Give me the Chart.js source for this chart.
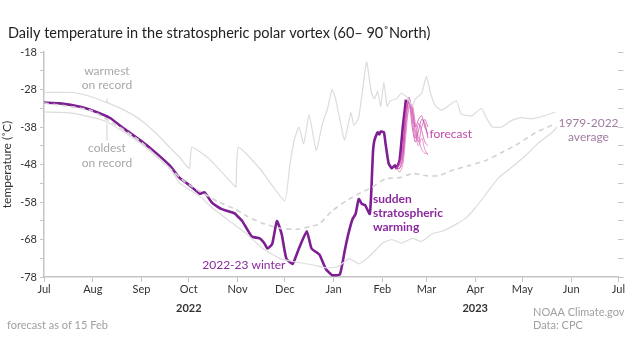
<!DOCTYPE html>
<html>
<head>
<meta charset="utf-8">
<script src="https://cdn.jsdelivr.net/npm/chart.js@4.4.0/dist/chart.umd.min.js"></script>
<style>
  body { margin: 0; background: #fff; }
  canvas { display: block; }
</style>
</head>
<body>
<canvas id="myChart" width="626" height="352"></canvas>
<script>
// days counted from 1 Jul 2022
var monthDays = [0, 31, 62, 92, 123, 153, 184, 215, 243, 274, 304, 335, 365];
var monthLabels = ['Jul', 'Aug', 'Sep', 'Oct', 'Nov', 'Dec', 'Jan', 'Feb', 'Mar', 'Apr', 'May', 'Jun', 'Jul'];
var yTicks = [-78, -73, -68, -63, -58, -53, -48, -43, -38, -33, -28, -23, -18];

// 2022-23 winter (observed)
var winterDays = [0, 10, 23, 32, 42, 51, 61, 70, 80, 86, 93, 99, 102, 107, 113, 121, 123, 126, 132, 137, 140, 142, 145, 148, 151, 154, 158, 162, 167, 170, 175, 179, 183, 188, 191, 193, 196, 198, 200, 202, 204, 207, 208, 209, 210, 212, 213, 214, 216, 217, 219, 221, 223, 224, 226, 228, 230];
var winterTemp = [-31.5, -31.7, -32.6, -33.8, -35.6, -38.5, -41.5, -44.5, -48.3, -51.5, -53.7, -55.8, -55.4, -58.3, -59.9, -61, -61.8, -63.1, -67.2, -67.7, -69, -70.4, -69.2, -63.1, -66.5, -73.1, -74.5, -70.4, -65.8, -70.4, -72, -75.8, -77.5, -77.3, -71.2, -67.2, -62.6, -61.2, -57.2, -58.5, -58.8, -61.2, -55, -45, -41.5, -39.4, -40, -39.2, -39.4, -42.3, -47.7, -49, -48.2, -49, -46.8, -38, -30.7];

// warmest on record
var warmDays = [0, 18, 29, 40, 51, 61, 72, 80, 86, 91, 92.5, 94, 105, 121, 122, 123.5, 137, 153, 156, 159, 162, 165, 168.5, 173, 177, 180, 183, 185, 188, 191, 195, 197, 200, 205, 208, 210, 212, 214, 216, 218, 220, 224, 227, 231, 234, 236, 240, 243, 246, 249, 253, 262, 265, 272, 278, 281, 285, 291, 297, 303, 310, 318, 325];
var warmTemp = [-28.8, -28.8, -29.8, -31.5, -33.5, -36, -40, -43.5, -46, -48.6, -49, -43.4, -46.5, -53.7, -54, -43.4, -49, -57.7, -48.8, -41.5, -38, -42.5, -34.8, -44.2, -37, -33.4, -28, -30, -36, -41.5, -34.2, -37.5, -35.5, -20.7, -28.8, -30.5, -28.5, -32.5, -26.1, -32.5, -31, -30.5, -29, -30.2, -32.5, -30.5, -29, -24.5, -29.5, -32.5, -33.5, -31, -34.5, -35, -33, -35.5, -38, -38, -36.3, -35.5, -35.8, -35, -34];

// coldest on record
var coldDays = [0, 18, 40, 61, 80, 86, 99, 107, 118, 129, 139, 150, 160, 171, 180, 187, 194, 200, 205, 208, 215, 221, 227, 234, 240, 247, 253, 262, 268, 274, 281, 289, 297, 306, 314, 323, 326];
var coldTemp = [-34, -34.3, -36.6, -42.3, -49, -52.9, -56.5, -59.6, -63.1, -66.6, -70.4, -73.1, -74, -74.8, -75.6, -75.2, -73.1, -74.5, -73.1, -72, -69, -68, -69, -67.7, -68.5, -66.4, -65.8, -63.9, -62.3, -59.6, -55.8, -51.5, -48.8, -45.6, -42.3, -39.4, -38];

// 1979-2022 average
var avgDays = [0, 30, 60, 90, 110, 122, 129, 139, 150, 160, 170, 175, 183, 192, 200, 208, 217, 226, 234, 243, 251, 259, 270, 281, 291, 302, 312, 323];
var avgTemp = [-31.6, -33.6, -41.4, -52.8, -57.8, -60, -61.8, -63.7, -65, -65.3, -64.5, -63.9, -60.4, -57.7, -55.8, -54.2, -51.8, -51.5, -50.4, -51, -51, -49.6, -48.3, -46.9, -44.8, -42.3, -39.6, -37.5];

// forecast members issued 15 Feb
var fcDays = [224, 226, 228, 230, 232, 234, 236, 238, 240, 242, 244];
var fc1 = [-49, -48, -44, -34, -30, -36, -41, -37, -39, -42, -43];
var fc2 = [-49, -49, -46, -36, -31, -33, -38, -36, -35, -38, -40];
var fc3 = [-49, -50, -48, -40, -32, -35, -40, -43, -41, -44, -45.5];
var fc4 = [-49, -47, -43, -33, -31.5, -38, -42, -39, -36, -37, -41];
var fc5 = [-49, -49, -47, -38, -33, -32, -37, -41, -44, -45, -45];
var fc6 = [-49, -48, -45, -35, -30.5, -34, -39, -42, -38, -36, -38];
var fcColors = ['rgba(214,90,180,0.75)', 'rgba(196,60,160,0.7)', 'rgba(226,120,196,0.75)', 'rgba(190,50,150,0.7)', 'rgba(220,110,190,0.7)', 'rgba(205,75,170,0.7)'];

function pts(days, vals) {
  return days.map(function (d, i) { return { x: d, y: vals[i] }; });
}

var datasets = [];
datasets.push({ data: pts(warmDays, warmTemp), borderColor: '#dcdcdc', borderWidth: 1.2 });
datasets.push({ data: pts(coldDays, coldTemp), borderColor: '#dcdcdc', borderWidth: 1.2 });
datasets.push({ data: pts(avgDays, avgTemp), borderColor: '#d2d2d2', borderWidth: 1.6, borderDash: [5, 4] });
[fc1, fc2, fc3, fc4, fc5, fc6].forEach(function (m, i) {
  datasets.push({ data: pts(fcDays, m), borderColor: fcColors[i], borderWidth: 1, tension: 0.3 });
});
datasets.push({ data: pts(winterDays, winterTemp), borderColor: '#7d1e92', borderWidth: 2.6 });

var notes = [
  { t: 'warmest', d: 40, v: -23.1, c: '#a8a8a8', a: 'center' },
  { t: 'on record', d: 40, v: -26.9, c: '#a8a8a8', a: 'center' },
  { t: 'coldest', d: 40, v: -43.7, c: '#a8a8a8', a: 'center' },
  { t: 'on record', d: 40, v: -47.5, c: '#a8a8a8', a: 'center' },
  { t: '2022-23 winter', d: 127, v: -74.8, c: '#8a2a9e', a: 'center' },
  { t: 'sudden', d: 209, v: -57.2, c: '#8a2a9e', a: 'left', b: true },
  { t: 'stratospheric', d: 209, v: -61, c: '#8a2a9e', a: 'left', b: true },
  { t: 'warming', d: 209, v: -64.8, c: '#8a2a9e', a: 'left', b: true },
  { t: 'forecast', d: 245, v: -39.9, c: '#c04aa6', a: 'left' },
  { t: '1979-2022', d: 346, v: -36.9, c: '#a07ca0', a: 'center' },
  { t: 'average', d: 346, v: -40.7, c: '#a07ca0', a: 'center' }
];

var FONT = 'Lato, "Open Sans", sans-serif';

var textPlugin = {
  id: 'texts',
  afterDatasetsDraw: function (chart) {
    var c = chart.ctx, xs = chart.scales.x, ys = chart.scales.y;
    c.save();
    // connectors for record labels
    c.strokeStyle = '#d0d0d0';
    c.lineWidth = 1;
    c.beginPath();
    c.moveTo(xs.getPixelForValue(40), ys.getPixelForValue(-30.4));
    c.lineTo(xs.getPixelForValue(40), ys.getPixelForValue(-31.5));
    c.moveTo(xs.getPixelForValue(40), ys.getPixelForValue(-37));
    c.lineTo(xs.getPixelForValue(40), ys.getPixelForValue(-41.6));
    c.stroke();
    c.textBaseline = 'middle';
    notes.forEach(function (n) {
      c.font = (n.b ? 'bold ' : '') + '12px ' + FONT;
      c.fillStyle = n.c;
      c.textAlign = n.a;
      c.fillText(n.t, xs.getPixelForValue(n.d), ys.getPixelForValue(n.v));
    });
    // title
    c.font = '14.5px ' + FONT;
    c.fillStyle = '#222';
    c.textAlign = 'left';
    c.fillText('Daily temperature in the stratospheric polar vortex (60\u2013 90\u02daNorth)', 8, 33);
    // years
    c.font = 'bold 11px ' + FONT;
    c.fillStyle = '#333';
    c.textAlign = 'center';
    c.fillText('2022', xs.getPixelForValue(92), 308);
    c.fillText('2023', xs.getPixelForValue(274), 308);
    // footers
    c.font = '11px ' + FONT;
    c.fillStyle = '#a0a0a0';
    c.textAlign = 'left';
    c.fillText('forecast as of 15 Feb', 7, 325);
    c.fillText('NOAA Climate.gov', 533, 312);
    c.fillText('Data: CPC', 533, 325);
    c.restore();
  }
};

var ctx = document.getElementById('myChart').getContext('2d');
var myChart = new Chart(ctx, {
  type: 'line',
  data: { datasets: datasets },
  options: {
    responsive: false,
    animation: false,
    devicePixelRatio: 1,
    layout: { padding: { top: 52, bottom: 35, left: 0, right: 0 } },
    elements: { point: { radius: 0 }, line: { tension: 0.15, fill: false } },
    plugins: { legend: { display: false }, tooltip: { enabled: false } },
    scales: {
      x: {
        type: 'linear',
        min: 0,
        max: 365,
        afterBuildTicks: function (axis) { axis.ticks = monthDays.map(function (v) { return { value: v }; }); },
        afterFit: function (axis) { axis.height = 40; },
        ticks: {
          callback: function (v, i) { return monthLabels[i]; },
          color: '#333',
          font: { family: FONT, size: 11 },
          padding: 1,
          maxRotation: 0,
          autoSkip: false
        },
        grid: { drawOnChartArea: false, tickLength: 5, color: '#c4c4c4' },
        border: { color: '#c4c4c4', width: 1.5 }
      },
      y: {
        min: -78,
        max: -18,
        afterBuildTicks: function (axis) { axis.ticks = yTicks.map(function (v) { return { value: v }; }); },
        afterFit: function (axis) { axis.width = 44; },
        ticks: {
          callback: function (v) { return (v + 78) % 10 === 0 ? String(v) : ''; },
          color: '#333',
          font: { family: FONT, size: 11 },
          padding: 3,
          autoSkip: false
        },
        title: { display: true, text: 'temperature (\u02daC)', color: '#333', font: { family: FONT, size: 12 }, padding: { top: 0, bottom: 0 } },
        grid: { drawOnChartArea: false, tickLength: 4, color: '#c4c4c4' },
        border: { color: '#c4c4c4', width: 1.5 }
      },
      y2: {
        position: 'right',
        min: -78,
        max: -18,
        afterBuildTicks: function (axis) { axis.ticks = yTicks.map(function (v) { return { value: v }; }); },
        afterFit: function (axis) { axis.width = 6; },
        ticks: { display: false },
        grid: { drawOnChartArea: false, tickLength: 5, color: '#c4c4c4' },
        border: { display: false }
      }
    }
  },
  plugins: [textPlugin]
});
</script>
</body>
</html>
